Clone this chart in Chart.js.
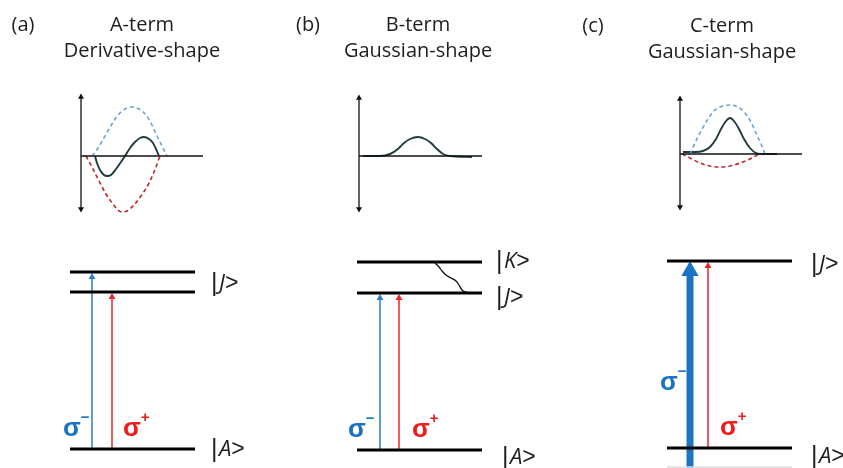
<!DOCTYPE html>
<html>
<head>
<meta charset="utf-8">
<script src="https://cdn.jsdelivr.net/npm/chart.js@4.4.1/dist/chart.umd.min.js"></script>
<style>
  html, body { margin: 0; padding: 0; background: #fff; }
  #wrap { width: 843px; height: 468px; }
</style>
</head>
<body>
<div id="wrap"><canvas id="mcd-canvas" width="843" height="468"></canvas></div>
<script>
// spectra sketches, [x, y] in drawing units (y grows downwards)
var aBlue = [[92,156],[98,148],[105,136],[112,124],[118,115],[125,109],[132,107],[139,109],[146,115],[152,125],[157,136],[162,146],[167,156]];
var aRed = [[86,156],[92,167],[99,181],[106,194],[113,204],[118,210],[122,212],[127,211],[134,205],[141,196],[148,185],[154,172],[160,156]];
var aBlack = [[95,156],[97,163],[100,170],[104,175],[107,176],[111,175],[116,169],[121,162],[125,156],[130,148],[135,142],[140,138],[144,137],[149,139],[153,143],[156,149],[159,156]];
var bBlack = [[363,156],[380,156],[390,154],[398,149],[404,143],[410,139],[418,137],[425,139],[431,143],[437,149],[443,154],[450,156],[472,157]];
var cBlue = [[690,154],[695,143],[701,131],[708,119],[715,110],[723,106],[731,105],[738,107],[745,113],[751,122],[756,133],[761,144],[765,154]];
var cRed = [[682,154],[690,158],[700,163],[710,166],[720,167],[730,166],[740,163],[750,159],[759,154]];
var cBlack = [[683,152],[695,152],[703,151],[710,147],[716,139],[721,129],[726,121],[730,118],[734,121],[739,129],[744,139],[750,148],[756,153],[763,154],[777,154]];

// plot axes: [x0, yTop, yBottom, yZero, xEnd]
var plotAxes = [[81,97,209,156,203],[359,98,209,156,482],[680,99,207,154,802]];

// energy levels: [xStart, xEnd, y]
var levels = [[70,195,272],[70,195,292],[70,195,449],
              [357,482,262],[357,482,293],[357,482,450],
              [667,792,261],[667,792,448]];
var faintLevel = [[667,792,467]];

// relaxation path K -> J
var relax = [[435,263],[439,267],[442,271],[446,275],[451,278],[456,281],[459,285],[462,290],[466,292],[472,293]];

// transitions: [x, yFrom, yTo]
var sigmaMinus = [[92,449,277],[380,450,298]];
var sigmaPlus = [[112,449,297],[399,450,298],[708,448,266]];
var sigmaMinusStrong = [[690,468,271]];

var titles = [
  ['(a)', 23, 25], ['A-term', 142, 25], ['Derivative-shape', 142, 51],
  ['(b)', 308, 25], ['B-term', 418, 25], ['Gaussian-shape', 418, 51],
  ['(c)', 593, 26], ['C-term', 722, 26], ['Gaussian-shape', 722, 52]
];
// kets: [state, xLeft, yMiddle]
var kets = [
  ['J', 212, 284], ['A', 212, 450],
  ['K', 497, 262], ['J', 497, 298], ['A', 503, 458],
  ['J', 812, 265], ['A', 812, 457]
];
// sigma labels: [sign, xLeft, baseline, colour]
var sigmas = [
  ['\u2212', 63, 436, '#1a73c2'], ['+', 123, 436, '#ee1c1c'],
  ['\u2212', 348, 437, '#1a73c2'], ['+', 412, 437, '#ee1c1c'],
  ['\u2212', 660, 390, '#1a73c2'], ['+', 720, 435, '#ee1c1c']
];

function pts(arr) {
  return arr.map(function (p) { return { x: p[0], y: p[1] }; });
}

function curve(arr, color, dashed) {
  return {
    data: pts(arr), showLine: true, borderColor: color, borderWidth: dashed ? 1.6 : 1.9,
    borderDash: dashed ? [4, 3] : [], pointRadius: 0, cubicInterpolationMode: 'monotone', fill: false
  };
}

function arrow(a, color, width, head) {
  return {
    data: [{ x: a[0], y: a[1] }, { x: a[0], y: a[2] }], showLine: true,
    borderColor: color, backgroundColor: color, borderWidth: width,
    pointStyle: 'triangle', pointRadius: [0, head], pointBorderWidth: 0, tension: 0
  };
}

var datasets = [];

plotAxes.forEach(function (ax) {
  datasets.push({
    data: [{ x: ax[0], y: ax[1] }, { x: ax[0], y: ax[2] }], showLine: true,
    borderColor: '#111', backgroundColor: '#111', borderWidth: 1.3,
    pointStyle: 'triangle', pointRadius: 3.5, pointRotation: [0, 180], pointBorderWidth: 0
  });
  datasets.push({
    data: [{ x: ax[0], y: ax[3] }, { x: ax[4], y: ax[3] }], showLine: true,
    borderColor: '#111', borderWidth: 1.6, pointRadius: 0
  });
});

datasets.push(curve(aBlue, '#6fa3db', true));
datasets.push(curve(aRed, '#c1272d', true));
datasets.push(curve(aBlack, '#1f3b3f', false));
datasets.push(curve(bBlack, '#1f3b3f', false));
datasets.push(curve(cBlue, '#6fa3db', true));
datasets.push(curve(cRed, '#c1272d', true));
datasets.push(curve(cBlack, '#1f3b3f', false));

levels.forEach(function (l) {
  datasets.push({
    data: [{ x: l[0], y: l[2] }, { x: l[1], y: l[2] }], showLine: true,
    borderColor: '#000', borderWidth: 3, pointRadius: 0
  });
});
faintLevel.forEach(function (l) {
  datasets.push({
    data: [{ x: l[0], y: l[2] }, { x: l[1], y: l[2] }], showLine: true,
    borderColor: '#dedede', borderWidth: 1.5, pointRadius: 0
  });
});

datasets.push({ data: pts(relax), showLine: true, borderColor: '#111', borderWidth: 1.3, pointRadius: 0, cubicInterpolationMode: 'monotone' });

sigmaMinus.forEach(function (a) { datasets.push(arrow(a, '#2a7fc9', 1.5, 4)); });
sigmaPlus.forEach(function (a) { datasets.push(arrow(a, '#e8262b', 1.5, 4)); });
sigmaMinusStrong.forEach(function (a) { datasets.push(arrow(a, '#1b74c4', 7, 10)); });

// text labels drawn on top of the datasets
var labelPlugin = {
  id: 'labels',
  afterDatasetsDraw: function (chart) {
    var c = chart.ctx, sx = chart.scales.x, sy = chart.scales.y;
    c.save();
    c.fillStyle = '#1e1e1e';
    c.textAlign = 'center';
    c.textBaseline = 'middle';
    c.font = '20px "Open Sans"';
    titles.forEach(function (t) {
      c.fillText(t[0], sx.getPixelForValue(t[1]), sy.getPixelForValue(t[2]));
    });
    // ket: upright bar, italic letter, upright bracket
    c.textAlign = 'left';
    kets.forEach(function (t) {
      var x = sx.getPixelForValue(t[1]), y = sy.getPixelForValue(t[2]);
      c.font = '25px "Liberation Sans"';
      c.fillText('|', x - 1, y);
      x += 7;
      c.font = 'italic 22px "Open Sans"';
      c.fillText(t[0], x, y);
      x += c.measureText(t[0]).width;
      c.font = '23px "Liberation Sans"';
      c.fillText('>', x, y);
    });
    c.textBaseline = 'alphabetic';
    sigmas.forEach(function (s) {
      var x = sx.getPixelForValue(s[1]), y = sy.getPixelForValue(s[2]);
      c.fillStyle = s[3];
      c.font = 'bold 26px "Liberation Sans"';
      c.fillText('\u03c3', x, y);
      var w = c.measureText('\u03c3').width;
      c.font = 'bold 15px "Liberation Sans"';
      c.fillText(s[0], x + w, y - 14);
    });
    c.restore();
  }
};

var chart = new Chart(document.getElementById('mcd-canvas').getContext('2d'), {
  type: 'scatter',
  data: { datasets: datasets },
  options: {
    responsive: false,
    devicePixelRatio: 1,
    animation: false,
    layout: { padding: 0, autoPadding: false },
    plugins: { legend: { display: false }, tooltip: { enabled: false } },
    scales: {
      x: { type: 'linear', min: 0, max: 843, display: false },
      y: { type: 'linear', min: 0, max: 468, reverse: true, display: false }
    }
  },
  plugins: [labelPlugin]
});
</script>
</body>
</html>
